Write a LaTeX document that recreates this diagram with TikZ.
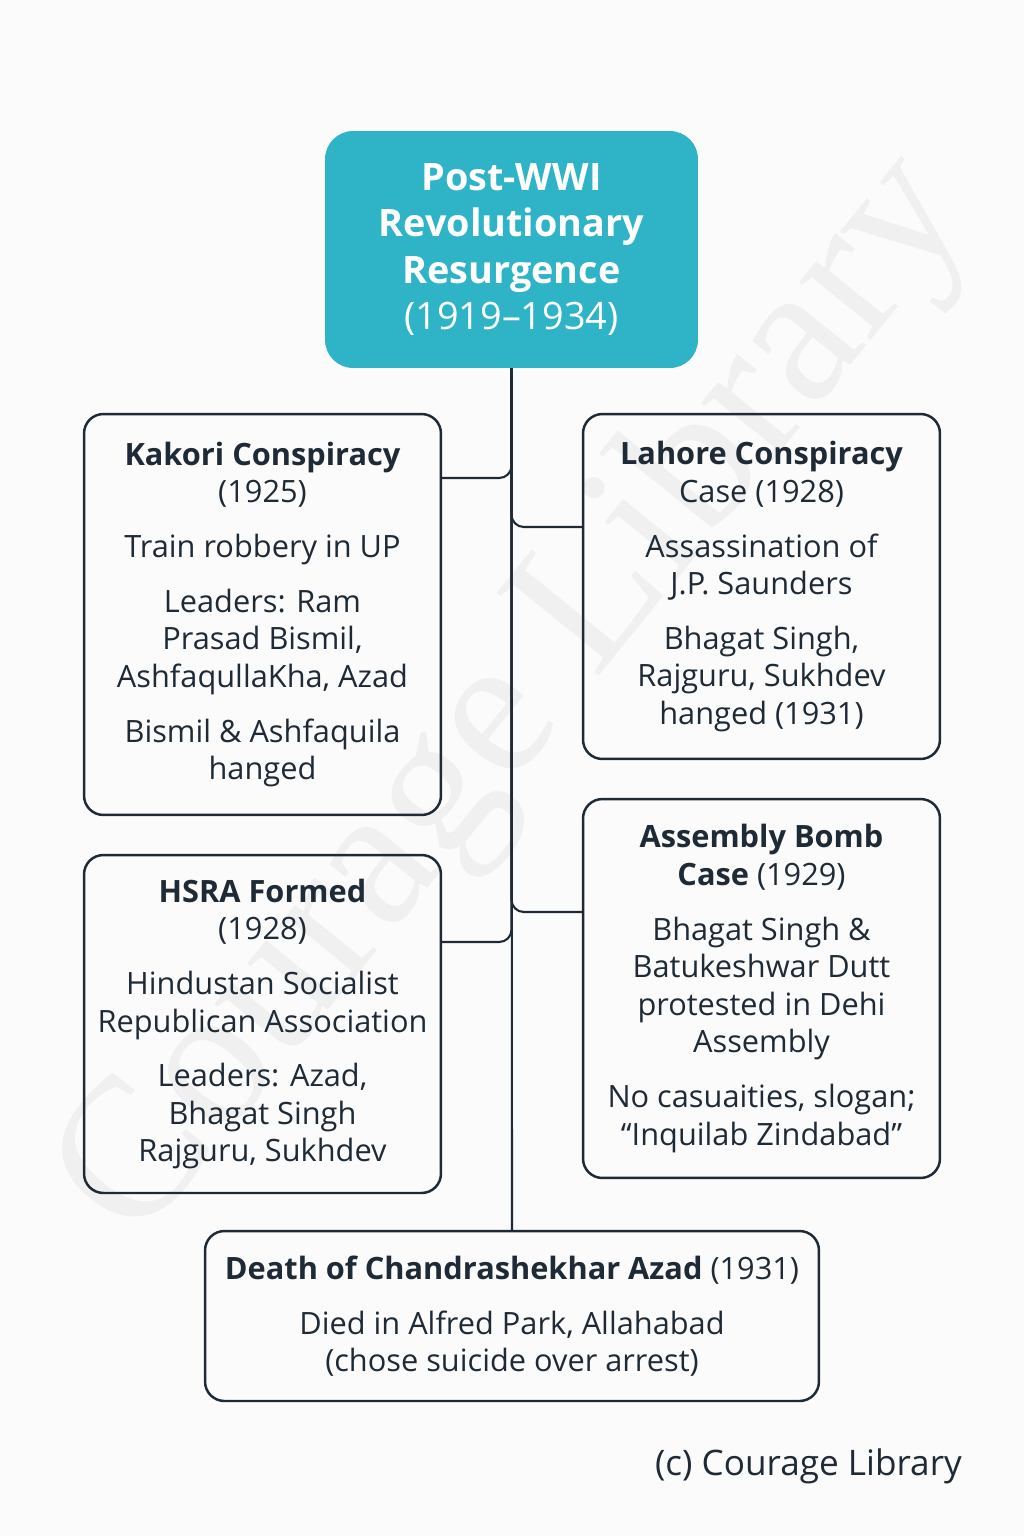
\documentclass[tikz,border=0pt]{standalone}
\usepackage{fontspec}
\setmainfont{Open Sans}
\newfontfamily\markfont{Liberation Serif}
\definecolor{ink}{HTML}{1E2B37}
\definecolor{headteal}{HTML}{2EB3C7}
\definecolor{paper}{HTML}{FBFBFB}
\definecolor{markgray}{HTML}{F0F0F0}
\begin{document}
\begin{tikzpicture}[x=0.02cm, y=-0.02cm,
    event/.style={draw=ink, line width=1.4pt, rounded corners=11pt, text=ink,
      align=center, minimum width=7.14cm, inner sep=0pt,
      font=\fontsize{17.5}{21.3}\selectfont},
    link/.style={draw=ink, line width=1.2pt, rounded corners=7pt}]
  \fill[paper] (0,0) rectangle (1024,1536);
  \useasboundingbox (0,0) rectangle (1024,1536);
  % watermark
  \node[rotate=51, text=markgray, font=\markfont\fontsize{114}{114}\selectfont] (mark) at (518,700) {Courage Library};
  % header
  \node [fill=headteal, text=white, rounded corners=16pt, align=center,
    minimum width=7.46cm, minimum height=4.74cm,
    font=\fontsize{21.5}{26.5}\selectfont] (head) at (511.5,249.5)
    {\textbf{Post-WWI}\\ \textbf{Revolutionary}\\ \textbf{Resurgence}\\ (1919–1934)};
  % events
  \node [event, minimum height=8.02cm] (kakori) at (262.5,614.5)
    {\textbf{Kakori Conspiracy}\\ (1925)\\[10pt]
     Train robbery in UP\\[10pt]
     Leaders: Ram\\ Prasad Bismil,\\ AshfaqullaKha, Azad\\[10pt]
     Bismil \& Ashfaquila\\ hanged};
  \node [event, minimum height=6.9cm] (lahore) at (761.5,586.5)
    {\textbf{Lahore Conspiracy}\\ Case (1928)\\[10pt]
     Assassination of\\ J.P. Saunders\\[10pt]
     Bhagat Singh,\\ Rajguru, Sukhdev\\ hanged (1931)};
  \node [event, minimum height=6.76cm] (hsra) at (262.5,1024)
    {\textbf{HSRA Formed}\\ (1928)\\[10pt]
     Hindustan Socialist\\ Republican Association\\[10pt]
     Leaders: Azad,\\ Bhagat Singh\\ Rajguru, Sukhdev};
  \node [event, minimum height=7.58cm] (bomb) at (761.5,988.5)
    {\textbf{Assembly Bomb}\\ \textbf{Case} (1929)\\[10pt]
     Bhagat Singh \&\\ Batukeshwar Dutt\\ protested in Dehi\\ Assembly\\[10pt]
     No casuaities, slogan;\\ “Inquilab Zindabad”};
  \node [event, minimum width=12.28cm, minimum height=3.4cm] (azad) at (512,1316)
    {\textbf{Death of Chandrashekhar Azad} (1931)\\[10pt]
     Died in Alfred Park, Allahabad\\ (chose suicide over arrest)};
  % connectors
  \draw[link] (head.south) -- (azad.north);
  \draw[link] (kakori.east |- 0,478) -| (head.south);
  \draw[link] (head.south) |- (lahore.west |- 0,527);
  \draw[link] (head.south) |- (bomb.west |- 0,912);
  \draw[link] (hsra.east |- 0,942) -| (head.south);
  % credit
  \node [text=ink, anchor=east, font=\fontsize{20}{24}\selectfont] (credit) at (968,1466) {(c) Courage Library};
\end{tikzpicture}
\end{document}
